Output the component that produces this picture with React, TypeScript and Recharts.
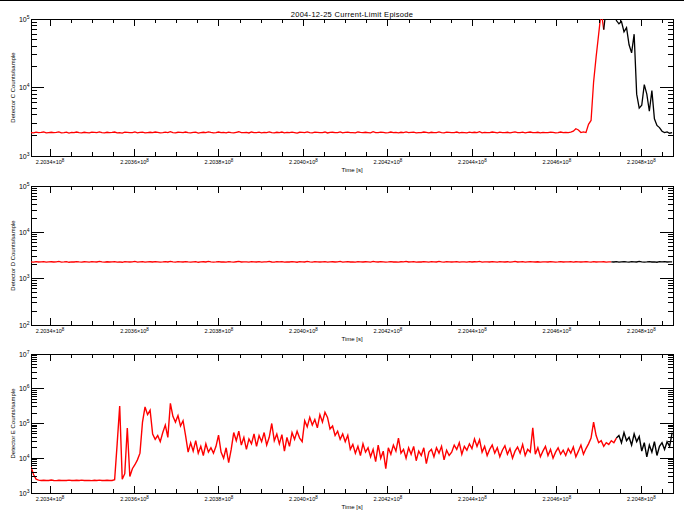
import React from 'react';
import { LineChart, Line, XAxis, YAxis, ReferenceArea } from 'recharts';

// ---- sampling grid (time in seconds) ----
const T0 = 220335500;
const STEP = 600;
const X_MIN = 220335500;
const X_MAX = 220487500;

// ---- x tick marks / labels ----
const xMajorTicks = [220340000, 220360000, 220380000, 220400000, 220420000, 220440000, 220460000, 220480000];
const xTickLabels = ['2.2034×10', '2.2036×10', '2.2038×10', '2.2040×10', '2.2042×10', '2.2044×10', '2.2046×10', '2.2048×10'];
const xTickExp = '8';
const xMinorStep = 5000;

// ---- panel titles ----
const chartTitle = '2004-12-25 Current-Limit Episode';
const xTitle = 'Time [s]';
const yTitles = ['Detector C Counts/sample', 'Detector D Counts/sample', 'Detector E Counts/sample'];
const yDecades = [[3, 4, 5], [2, 3, 4, 5], [3, 4, 5, 6, 7]];

// ---- Detector C (counts/sample) ----
const detCRed = [
  2200,2180,2230,2190,2210,2240,2170,2200,2220,2190,
  2210,2250,2180,2200,2230,2160,2210,2190,2240,2200,
  2180,2220,2200,2170,2230,2210,2190,2250,2200,2180,
  2220,2190,2210,2240,2180,2200,2160,2230,2210,2190,
  2200,2250,2180,2210,2230,2170,2200,2220,2190,2240,
  2210,2180,2200,2230,2190,2260,2200,2170,2220,2210,
  2190,2240,2200,2180,2210,2230,2160,2200,2220,2190,
  2250,2210,2180,2200,2240,2190,2210,2170,2230,2200,
  2180,2220,2260,2190,2200,2210,2170,2240,2200,2190,
  2230,2180,2210,2200,2250,2190,2170,2220,2200,2240,
  2180,2210,2190,2230,2200,2160,2220,2210,2190,2250,
  2200,2180,2230,2210,2190,2200,2240,2170,2210,2220,
  2190,2200,2250,2180,2210,2230,2190,2200,2170,2240,
  2210,2190,2220,2200,2180,2260,2200,2190,2230,2210,
  2170,2200,2240,2190,2210,2180,2220,2200,2250,2190,
  2210,2230,2180,2200,2190,2240,2210,2170,2220,2200,
  2190,2250,2200,2180,2230,2210,2190,2200,2240,2180,
  2210,2200,2170,2230,2190,2220,2200,2260,2180,2210,
  2200,2190,2240,2210,2180,2230,2200,2190,2220,2170,
  2210,2250,2190,2200,2230,2180,2210,2240,2200,2190,
  2220,2180,2210,2200,2190,2230,2210,2170,2200,2240,
  2190,2210,2200,2230,
  2300,2500,2400,2200,2250,2200,2900,3300,12000,28000,60000,130000,70000,
];
const detCBlack = [
  70000,150000,180000,140000,160000,95000,85000,92000,65000,75000,
  42000,32000,60000,8000,5000,5500,11000,8000,4500,9000,
  3500,2800,2600,2300,2200,2250,2150,2200,
];

// ---- Detector D (counts/sample) ----
const detDRed = [
  2300,2280,2330,2290,2310,2340,2270,2300,2320,2290,
  2310,2350,2280,2300,2330,2260,2310,2290,2340,2300,
  2280,2320,2300,2270,2330,2310,2290,2350,2300,2280,
  2320,2290,2310,2340,2280,2300,2260,2330,2310,2290,
  2300,2350,2280,2310,2330,2270,2300,2320,2290,2340,
  2310,2280,2300,2330,2290,2360,2300,2270,2320,2310,
  2290,2340,2300,2280,2310,2330,2260,2300,2320,2290,
  2350,2310,2280,2300,2340,2290,2310,2270,2330,2300,
  2280,2320,2360,2290,2300,2310,2270,2340,2300,2290,
  2330,2280,2310,2300,2350,2290,2270,2320,2300,2340,
  2280,2310,2290,2330,2300,2260,2320,2310,2290,2350,
  2300,2280,2330,2310,2290,2300,2340,2270,2310,2320,
  2290,2300,2350,2280,2310,2330,2290,2300,2270,2340,
  2310,2290,2320,2300,2280,2360,2300,2290,2330,2310,
  2270,2300,2340,2290,2310,2280,2320,2300,2350,2290,
  2310,2330,2280,2300,2290,2340,2310,2270,2320,2300,
  2290,2350,2300,2280,2330,2310,2290,2300,2340,2280,
  2310,2300,2270,2330,2290,2320,2300,2360,2280,2310,
  2300,2290,2340,2310,2280,2330,2300,2290,2320,2270,
  2310,2350,2290,2300,2330,2280,2310,2340,2300,2290,
  2320,2280,2310,2300,2290,2330,2310,2270,2300,2340,
  2290,2310,2300,2330,2280,2320,2300,2290,2310,2340,
  2300,2280,2330,2290,2310,2300,2320,2280,2300,2310,
];
const detDBlack = [
  2310,2290,2330,2280,2310,2340,2300,2270,2320,2300,
  2290,2350,2310,2280,2300,2330,2290,2310,2260,2320,
  2300,2340,2290,2310,2300,
];

// ---- Detector E (counts/sample) ----
const detERed = [
  5600,3400,2500,
  2350,2300,2320,2280,2300,2360,2300,2270,2330,2300,2310,2290,2350,2300,2280,2320,
  2300,2340,2290,2310,2300,2270,2330,2300,2350,2290,2300,2320,2280,2300,2400,
  26000,320000,2500,3600,74000,3000,5000,6500,9000,14000,110000,300000,180000,240000,50000,
  35000,45000,30000,55000,90000,40000,380000,160000,110000,170000,85000,120000,45000,15000,28000,
  16000,32000,14000,22000,12000,26000,15000,20000,
  14000,22000,46000,15000,10000,20000,7500,18000,55000,32000,60000,24000,40000,18000,36000,
  26000,50000,22000,45000,30000,55000,24000,40000,100000,32000,50000,26000,
  48000,16000,40000,22000,55000,35000,60000,38000,
  30000,120000,80000,150000,90000,130000,75000,
  180000,110000,210000,150000,
  70000,85000,45000,60000,35000,50000,30000,46000,
  18000,25000,14000,22000,12000,26000,15000,20000,11000,
  18000,8000,24000,10000,16000,5000,
  20000,13000,24000,16000,38000,14000,
  18000,10000,20000,13000,22000,8500,16000,12000,20000,7000,15000,18000,11000,20000,14000,22000,9000,17000,12000,
  15000,24000,18000,28000,13000,22000,17000,26000,19000,36000,22000,34000,
  15000,22000,12000,18000,24000,14000,20000,11000,17000,23000,13000,19000,10000,16000,21000,14000,25000,12000,18000,15000,
  75000,
  13000,20000,11000,16000,22000,12000,18000,10000,15000,20000,13000,17000,12000,19000,14000,21000,11000,16000,24000,13000,19000,26000,
  38000,110000,45000,28000,
  32000,22000,28000,25000,32000,28000,38000,
];
const detEBlack = [
  38000,45000,28000,55000,32000,40000,24000,50000,30000,42000,
  16000,28000,11000,24000,15000,30000,12000,22000,
  28000,18000,30000,22000,55000,
];

// ---- build table ----
const seriesSets = [
  { red: detCRed, black: detCBlack },
  { red: detDRed, black: detDBlack },
  { red: detERed, black: detEBlack },
];
const N = Math.max(...seriesSets.map(s => s.red.length - 1 + s.black.length));
const tables = seriesSets.map(s => {
  const bs = s.red.length - 1;
  const rows: any[] = [];
  for (let i = 0; i < N; i++) {
    rows.push({
      t: T0 + i * STEP,
      red: i < s.red.length ? s.red[i] : null,
      black: i >= bs && i - bs < s.black.length ? s.black[i - bs] : null,
    });
  }
  return rows;
});

const xTicks: number[] = [];
xMajorTicks.forEach(m => {
  for (let k = 0; k < 4; k++) {
    const v = m + k * xMinorStep;
    if (v <= X_MAX) xTicks.push(v);
  }
});

const yTicksFor = (dec: number[]) => {
  const out: number[] = [];
  for (let j = 0; j < dec.length - 1; j++) {
    for (let k = 1; k <= 9; k++) out.push(k * Math.pow(10, dec[j]));
  }
  out.push(Math.pow(10, dec[dec.length - 1]));
  return out;
};

const FONT = '"Liberation Sans", Arial, sans-serif';
const PLOT_W = 642;
const LEFT = 31;
const XAXIS_H = 18;

const XTick = (props: any) => {
  const { x, payload, plotBottom, plotH } = props;
  const v = payload.value;
  const idx = xMajorTicks.indexOf(v);
  const major = idx >= 0;
  const len = major ? 7 : 4;
  const y = plotBottom;
  return (
    <g>
      <line x1={x} x2={x} y1={y} y2={y - len} stroke="#000" strokeWidth={1} shapeRendering="crispEdges" />
      <line x1={x} x2={x} y1={y - plotH} y2={y - plotH + len} stroke="#000" strokeWidth={1} shapeRendering="crispEdges" />
      {major && (
        <text x={x} y={y + 8} textAnchor="middle" fontSize={5.5} fontFamily={FONT} fill="#000">
          {xTickLabels[idx]}
          <tspan dy={-2.5} fontSize={4.5}>{xTickExp}</tspan>
        </text>
      )}
    </g>
  );
};

const YTick = (props: any) => {
  const { y, payload } = props;
  const x = LEFT;
  const v = payload.value;
  const lg = Math.log10(v);
  const major = Math.abs(lg - Math.round(lg)) < 1e-6;
  const len = major ? 13 : 5.5;
  return (
    <g>
      <line x1={x} x2={x + len} y1={y} y2={y} stroke="#000" strokeWidth={1} shapeRendering="crispEdges" />
      <line x1={x + PLOT_W} x2={x + PLOT_W - len} y1={y} y2={y} stroke="#000" strokeWidth={1} shapeRendering="crispEdges" />
      {major && (
        <text x={x - 1.5} y={y + 2.5} textAnchor="end" fontSize={7} fontFamily={FONT} fill="#000">
          10
          <tspan dy={-3} fontSize={5}>{Math.round(lg)}</tspan>
        </text>
      )}
    </g>
  );
};

const panels = [
  { top: 0, height: 175, mt: 19, mb: 19, sw: 1.3 },
  { top: 175, height: 170, mt: 11, mb: 20, sw: 1.3 },
  { top: 345, height: 173, mt: 9, mb: 25, sw: 1.4 },
];

export default function App() {
  return (
    <div style={{ position: 'absolute', left: 0, top: 0, width: 684, height: 518, background: '#fff', overflow: 'hidden', fontFamily: FONT }}>
      <div style={{ position: 'absolute', left: 0, top: 0, width: 684, height: 1, background: '#000' }} />
      {panels.map((p, pi) => {
        const dec = yDecades[pi];
        const yMin = Math.pow(10, dec[0]);
        const yMax = Math.pow(10, dec[dec.length - 1]);
        const plotH = p.height - p.mt - p.mb;
        const plotBottom = p.height - p.mb;
        return (
          <div key={pi} style={{ position: 'absolute', left: 0, top: p.top, width: 684, height: p.height }}>
            <LineChart width={684} height={p.height} data={tables[pi]} margin={{ top: p.mt, right: 11, bottom: p.mb - XAXIS_H, left: 0 }}>
              <XAxis
                dataKey="t"
                type="number"
                domain={[X_MIN, X_MAX]}
                allowDataOverflow
                ticks={xTicks}
                interval={0}
                height={XAXIS_H}
                tickSize={0}
                tickMargin={0}
                axisLine={false}
                tickLine={false}
                tick={<XTick plotBottom={plotBottom} plotH={plotH} />}
              />
              <YAxis
                type="number"
                scale="log"
                domain={[yMin, yMax]}
                allowDataOverflow
                ticks={yTicksFor(dec)}
                interval={0}
                width={LEFT}
                tickSize={0}
                tickMargin={0}
                axisLine={false}
                tickLine={false}
                tick={<YTick />}
              />
              <ReferenceArea x1={X_MIN} x2={X_MAX} y1={yMin} y2={yMax} fill="none" fillOpacity={0} stroke="#000" strokeWidth={1} shapeRendering="crispEdges" />
              <Line dataKey="red" stroke="#ff0000" strokeWidth={p.sw} dot={false} isAnimationActive={false} connectNulls={false} />
              <Line dataKey="black" stroke="#000000" strokeWidth={p.sw} dot={false} isAnimationActive={false} connectNulls={false} />
            </LineChart>
          </div>
        );
      })}
      <svg width={684} height={518} style={{ position: 'absolute', left: 0, top: 0, pointerEvents: 'none' }}>
        <text x={352} y={17} textAnchor="middle" fontSize={7.5} letterSpacing={0.3} fontFamily={FONT} fill="#000">{chartTitle}</text>
        {panels.map((p, pi) => {
          const plotTop = p.top + p.mt;
          const plotBottom = p.top + p.height - p.mb;
          const cy = (plotTop + plotBottom) / 2;
          return (
            <g key={pi}>
              <text x={352} y={plotBottom + 16} textAnchor="middle" fontSize={6} fontFamily={FONT} fill="#000">{xTitle}</text>
              <text x={14.8} y={cy} transform={`rotate(-90 14.8 ${cy})`} textAnchor="middle" fontSize={6} fontFamily={FONT} fill="#000">{yTitles[pi]}</text>
            </g>
          );
        })}
      </svg>
    </div>
  );
}
